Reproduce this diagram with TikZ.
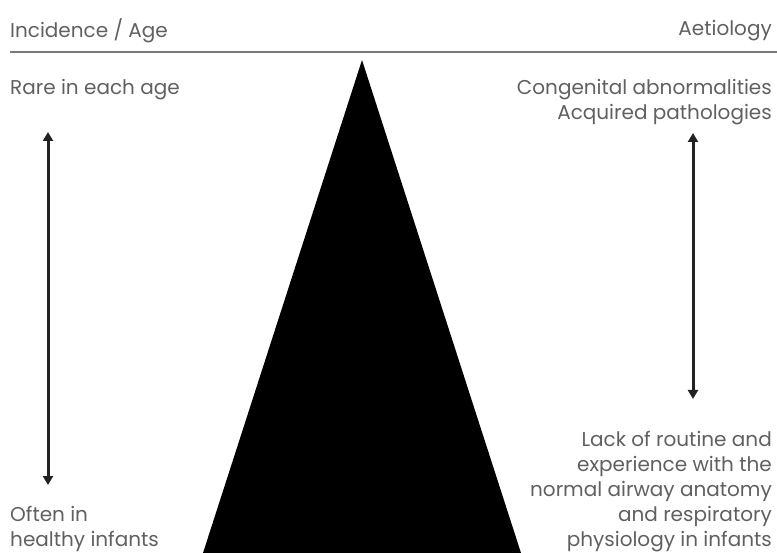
\documentclass[tikz,border=0pt]{standalone}
\usepackage{fontspec}
\setmainfont{Poppins}
\definecolor{DText}{HTML}{606060}
\definecolor{DRule}{HTML}{7A7A7A}
\definecolor{DArrow}{HTML}{222222}
\usetikzlibrary{arrows.meta,positioning}

\begin{document}
\begin{tikzpicture}[x=1pt,y=-1pt,
    lbl/.style={text=DText,font=\fontsize{20}{25}\selectfont,inner sep=0pt},
    twoway/.style={draw=DArrow,line width=3pt,
      arrows={Triangle[length=9pt,width=10pt]-Triangle[length=9pt,width=10pt]}}]
  \useasboundingbox (0,0) rectangle (777,553);
  % headers and rule
  \node[lbl,anchor=west] (inc) at (10,31) {Incidence / Age};
  \node[lbl,anchor=east] (aet) at (772,31) {Aetiology};
  \draw[DRule,line width=1.5pt] (10,52) -- (777,52);
  % pyramid
  \fill[black] (362,60) -- (521,553) -- (203,553) -- cycle;
  % left column
  \node[lbl,anchor=west] (rare) at (10,90) {Rare in each age};
  \node[lbl,anchor=south west,align=left] (often) at (10,552) {Often in\\healthy infants};
  \coordinate (ltop) at (48,132);
  \coordinate (lbot) at (48,485);
  \draw[twoway] (ltop) -- (lbot);
  % right column
  \node[lbl,anchor=north east,align=right] (cause) at (772,79) {Congenital abnormalities\\Acquired pathologies};
  \node[lbl,anchor=south east,align=right] (lack) at (772,552)
    {Lack of routine and\\experience with the\\normal airway anatomy\\and respiratory\\physiology in infants};
  \coordinate (rtop) at (693,133);
  \coordinate (rbot) at (693,399);
  \draw[twoway] (rtop) -- (rbot);
\end{tikzpicture}
\end{document}
